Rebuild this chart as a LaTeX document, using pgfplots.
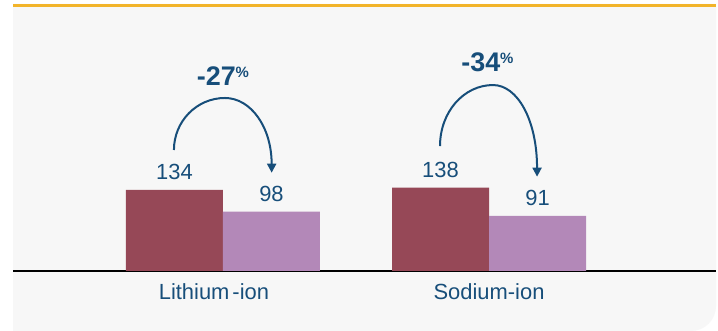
\documentclass[border=0pt]{standalone}
\usepackage{pgfplots}
\pgfplotsset{compat=1.18}
\usepackage{fontspec}
\setmainfont{Liberation Sans}
\usetikzlibrary{arrows.meta}
\definecolor{panelbg}{HTML}{F7F7F7}
\definecolor{gold}{HTML}{F2B42A}
\definecolor{darkbar}{HTML}{964857}
\definecolor{lightbar}{HTML}{B388B8}
\definecolor{txtblue}{HTML}{174E7A}
\begin{document}
\begin{tikzpicture}
\fill[white] (0,0) rectangle (718bp,331bp);
\fill[panelbg] (13bp,0) -- (13bp,327bp) -- (716bp,327bp) -- (716bp,25bp)
  arc[start angle=0,end angle=-90,radius=25bp] -- cycle;
\fill[gold] (13bp,324bp) rectangle (716bp,327bp);
\begin{axis}[
  at={(13bp,60bp)}, anchor=south west,
  scale only axis, width=703bp, height=264bp,
  xmin=-0.789, xmax=1.853, ymin=0, ymax=436.4,
  clip=false,
  ybar=0pt, bar width=97bp,
  hide y axis,
  axis x line*=bottom,
  x axis line style={black, line width=1.2bp, -},
  xtick={0,1},
  xticklabels={\hspace*{-18bp}Lithium\hspace{3bp}-ion, Sodium-ion},
  major tick length=0pt,
  xticklabel style={anchor=base, yshift=-29bp, font=\fontsize{22}{22}\selectfont, text=txtblue},
  /pgf/number format/assume math mode=true,
  nodes near coords,
  every node near coord/.append style={anchor=base, yshift=10bp, font=\fontsize{22}{22}\selectfont, text=txtblue},
]
\addplot[fill=darkbar, draw=none] coordinates {(0,134) (1,138)};
\addplot[fill=lightbar, draw=none] coordinates {(0,98) (1,91)};
\draw[txtblue, line width=2bp, -{Triangle[length=9bp,width=9bp]}]
  (axis cs:-0.1842,200.0) .. controls (axis cs:-0.1842,247.4) and (axis cs:-0.0985,286.0) ..
  (axis cs:0.0075,286.0) .. controls (axis cs:0.1045,286.0) and (axis cs:0.1831,238.0) ..
  (axis cs:0.1831,162.5);
\draw[txtblue, line width=2bp, -{Triangle[length=9bp,width=9bp]}]
  (axis cs:0.8158,206.6) .. controls (axis cs:0.8158,262.8) and (axis cs:0.9049,307.4) ..
  (axis cs:1.0150,307.4) .. controls (axis cs:1.1064,307.4) and (axis cs:1.1805,250.0) ..
  (axis cs:1.1805,155.9);
\node[anchor=base, text=txtblue, inner sep=0pt] at (axis cs:0,306.3)
  {\fontsize{27}{27}\selectfont\bfseries -27\raisebox{8bp}{\fontsize{15}{15}\selectfont\%}};
\node[anchor=base, text=txtblue, inner sep=0pt] at (axis cs:0.994,329.4)
  {\fontsize{27}{27}\selectfont\bfseries -34\raisebox{8bp}{\fontsize{15}{15}\selectfont\%}};
\end{axis}
\end{tikzpicture}
\end{document}
